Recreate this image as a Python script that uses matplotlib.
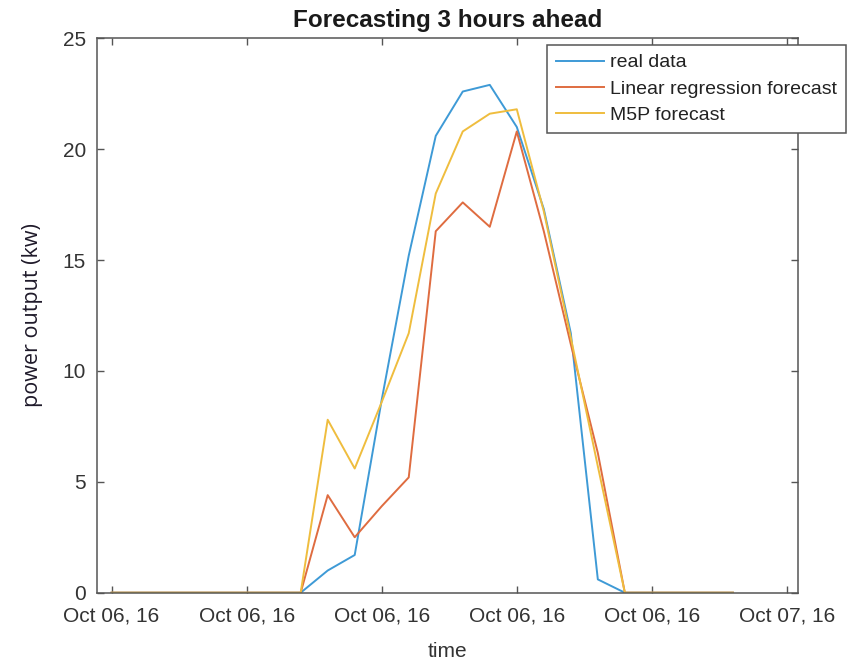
# Forecast comparison for 06 Oct 2016, 3 hour horizon

import numpy as np
import pandas as pd
import matplotlib
matplotlib.use('Agg')
import matplotlib.pyplot as plt
import matplotlib.dates as mdates

# hourly series (kW), 00:00 to 23:00
hours = pd.date_range('2016-10-06 00:00', periods=24, freq='h')
real_data = [0, 0, 0, 0, 0, 0, 0, 0, 1.0, 1.7, 8.7, 15.2, 20.6, 22.6,
             22.9, 21.0, 17.3, 11.7, 0.6, 0, 0, 0, 0, 0]
lr_forecast = [0, 0, 0, 0, 0, 0, 0, 0, 4.4, 2.5, 3.9, 5.2, 16.3, 17.6,
               16.5, 20.8, 16.3, 11.2, 6.3, 0, 0, 0, 0, 0]
m5p_forecast = [0, 0, 0, 0, 0, 0, 0, 0, 7.8, 5.6, 8.6, 11.7, 18.0, 20.8,
                21.6, 21.8, 17.2, 11.5, 5.7, 0, 0, 0, 0, 0]
series_names = ['real data', 'Linear regression forecast', 'M5P forecast']

# tick every 5 hours
tick_times = pd.date_range('2016-10-06 00:00', periods=6, freq='5h')
y_ticks = [0, 5, 10, 15, 20, 25]

line_colours = ['#3e9ad6', '#df6c40', '#efbd3e']
axis_colour = '#555555'

plt.rcParams['font.family'] = ['Liberation Sans', 'DejaVu Sans']

fig1 = plt.figure(figsize=(8.49, 6.66), dpi=100)
ax1 = fig1.add_axes([97/849, 1 - 592.7/666, (798 - 97)/849, (592.7 - 38.3)/666])

for vals, name, col in zip([real_data, lr_forecast, m5p_forecast], series_names, line_colours):
    ax1.plot(hours, vals, color=col, lw=1.4, label=name)

start = hours[0]
ax1.set_xlim(start - pd.Timedelta(hours=0.54), start + pd.Timedelta(hours=25.41))
ax1.set_ylim(0, 25)
ax1.set_xticks(tick_times)
ax1.xaxis.set_major_formatter(mdates.DateFormatter('%b %d, %y'))
ax1.set_yticks(y_ticks)

ax1.tick_params(direction='in', top=True, right=True, length=5, width=1,
                color=axis_colour, labelcolor='#333333', labelsize=15)
ax1.tick_params(axis='x', pad=10)
ax1.tick_params(axis='y', pad=8)
for sp in ax1.spines.values():
    sp.set_color(axis_colour)
    sp.set_linewidth(1.1)

ax1.set_title('Forecasting 3 hours ahead', fontsize=17.5, fontweight='bold',
              color='#1a1a1a', pad=8)
ax1.set_xlabel('time', fontsize=15, color='#333333', labelpad=12)
ax1.set_ylabel('power output (kw)', fontsize=15.5, family=['Open Sans', 'DejaVu Sans'],
               color='#1f1a2a', labelpad=14)

leg = ax1.legend(loc='upper right', bbox_to_anchor=(846/849, 1 - 45/666),
                 bbox_transform=fig1.transFigure, fontsize=14, frameon=True,
                 fancybox=False, framealpha=1, edgecolor='#555555',
                 handlelength=2.5, handletextpad=0.3, labelspacing=0.45,
                 borderpad=0.45, borderaxespad=0)
leg.get_frame().set_linewidth(1.1)
for t in leg.get_texts():
    t.set_color('#222222')

fig1.savefig('out.png', dpi=100)
print('done out.png')
